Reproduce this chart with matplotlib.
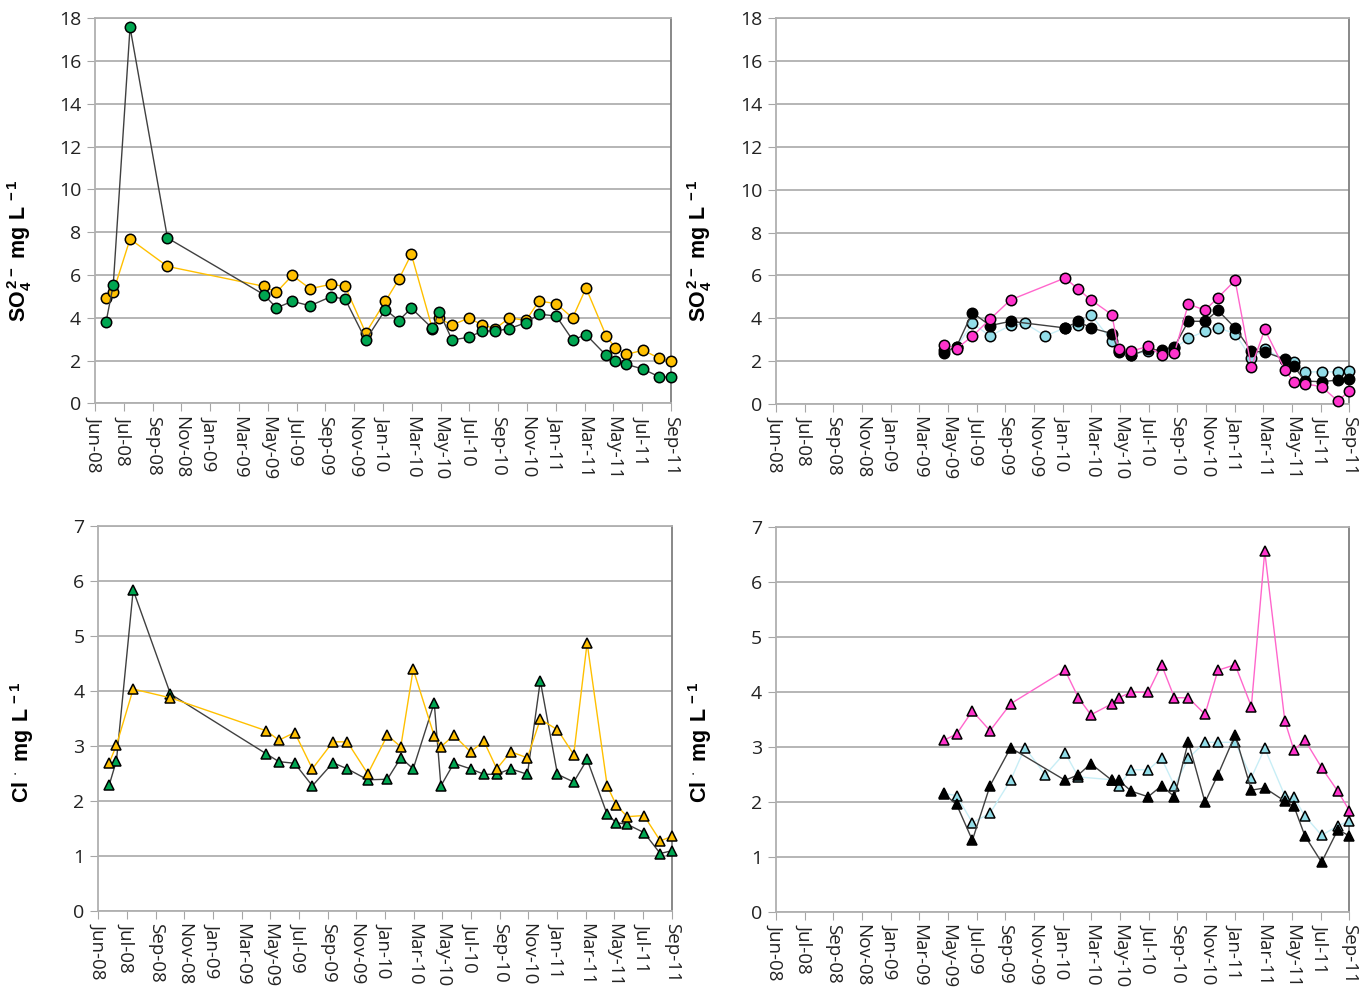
#!/usr/bin/env python3
"""
Sulphate and chloride time series, four panels (Jun-08 .. Sep-11).
"""
import numpy as np
import matplotlib
matplotlib.use("Agg")
import matplotlib.pyplot as plt
import matplotlib.dates as mdates

plt.rcParams.update({
    "font.family": ["Open Sans", "DejaVu Sans"],
    "mathtext.fontset": "custom",
    "mathtext.rm": "Liberation Sans",
    "mathtext.bf": "Liberation Sans:bold",
})

# ---------------------------------------------------------------------------
# Data (sampling dates shared by all panels, NaN = no sample)
# ---------------------------------------------------------------------------
DATES = [
    "2008-06-24", "2008-07-09", "2008-08-13", "2008-10-30",
    "2009-05-19", "2009-06-14", "2009-07-17", "2009-08-23",
    "2009-10-05", "2009-11-04", "2009-12-17", "2010-01-27",
    "2010-02-24", "2010-03-22", "2010-05-05", "2010-05-19",
    "2010-06-15", "2010-07-20", "2010-08-17", "2010-09-13",
    "2010-10-12", "2010-11-16", "2010-12-13", "2011-01-18",
    "2011-02-21", "2011-03-21", "2011-05-02", "2011-05-21",
    "2011-06-13", "2011-07-18", "2011-08-21", "2011-09-14",
]
nan = np.nan

# top left: SO4
so4_yellow = [4.91, 5.20, 7.68, 6.40, 5.47, 5.19, 5.98, 5.36, 5.56, 5.47, 3.29, 4.77,
              5.80, 6.97, 3.47, 3.97, 3.66, 3.99, 3.66, 3.49, 3.99, 3.88, 4.78, 4.66,
              3.99, 5.39, 3.15, 2.59, 2.29, 2.48, 2.10, 1.96]
so4_green = [3.80, 5.53, 17.58, 7.73, 5.08, 4.46, 4.77, 4.56, 4.98, 4.88, 2.96, 4.38,
             3.87, 4.45, 3.50, 4.28, 2.96, 3.09, 3.38, 3.38, 3.49, 3.77, 4.17, 4.08,
             2.96, 3.21, 2.24, 1.99, 1.82, 1.60, 1.23, 1.23]

# top right: SO4
so4_blue = [nan, nan, nan, nan, 2.50, 2.65, 3.76, 3.18, 3.67, 3.76, 3.18, 3.55,
            3.67, 4.17, 2.94, 2.45, 2.30, 2.47, 2.45, 2.60, 3.06, 3.40, 3.55, 3.29,
            2.13, 2.56, 2.05, 1.97, 1.50, 1.50, 1.50, 1.55]
so4_black = [nan, nan, nan, nan, 2.40, 2.68, 4.27, 3.66, 3.86, nan, nan, 3.55,
             3.86, 3.55, 3.29, 2.48, 2.28, 2.55, 2.51, 2.68, 3.86, 3.86, 4.37, 3.55,
             2.46, 2.43, 2.09, 1.77, 1.07, 1.04, 1.12, 1.15]
so4_pink = [nan, nan, nan, nan, 2.75, 2.59, 3.16, 3.96, 4.86, nan, nan, 5.88,
            5.35, 4.86, 4.17, 2.55, 2.47, 2.69, 2.27, 2.38, 4.66, 4.38, 4.96, 5.77,
            1.72, 3.48, 1.61, 1.03, 0.94, 0.81, 0.14, 0.61]

# bottom left: Cl
cl_yellow = [2.69, 3.01, 4.03, 3.87, 3.27, 3.10, 3.24, 2.58, 3.07, 3.07, 2.49, 3.19,
             2.98, 4.39, 3.18, 2.98, 3.19, 2.89, 3.08, 2.58, 2.89, 2.78, 3.48, 3.29,
             2.84, 4.87, 2.27, 1.92, 1.71, 1.73, 1.27, 1.35]
cl_green = [2.29, 2.73, 5.83, 3.94, 2.85, 2.71, 2.68, 2.27, 2.69, 2.58, 2.38, 2.39,
            2.78, 2.58, 3.78, 2.27, 2.68, 2.58, 2.48, 2.48, 2.58, 2.48, 4.18, 2.48,
            2.34, 2.75, 1.75, 1.60, 1.57, 1.42, 1.04, 1.09]

# bottom right: Cl
cl_blue = [nan, nan, nan, nan, 2.15, 2.11, 1.62, 1.79, 2.39, 2.98, 2.49, 2.89,
           2.45, nan, 2.40, 2.29, 2.58, 2.58, 2.79, 2.29, 2.79, 3.08, 3.08, 3.08,
           2.44, 2.97, 2.11, 2.08, 1.74, 1.39, 1.56, 1.65]
cl_black = [nan, nan, nan, nan, 2.14, 1.95, 1.30, 2.29, 2.98, nan, nan, 2.39,
            2.49, 2.69, 2.39, 2.39, 2.19, 2.09, 2.29, 2.09, 3.09, 1.99, 2.49, 3.21,
            2.21, 2.25, 2.01, 1.92, 1.38, 0.90, 1.49, 1.38]
cl_pink = [nan, nan, nan, nan, 3.12, 3.23, 3.65, 3.29, 3.78, nan, nan, 4.39,
           3.89, 3.58, 3.78, 3.89, 3.99, 3.99, 4.49, 3.89, 3.89, 3.59, 4.39, 4.49,
           3.73, 6.55, 3.47, 2.94, 3.12, 2.62, 2.19, 1.84]

SO4_LABEL = r"$\mathbf{SO_4^{\,2-}\;mg\ L^{\,-1}}$"
CL_LABEL = r"$\mathbf{Cl^{\,\cdot}\ mg\ L^{\,-1}}$"

# ---------------------------------------------------------------------------
# Style
# ---------------------------------------------------------------------------
YELLOW = dict(mfc="#FFC000", line="#FFC000")
GREEN = dict(mfc="#00A651", line="#404040")
BLUE = dict(mfc="#92DDE8", line="#C8EEF6")
BLACK = dict(mfc="#000000", line="#404040")
PINK = dict(mfc="#FF33CC", line="#FF66CC")

START = np.datetime64("2008-06-01")
TICKS = [START + np.timedelta64(60 * k, "D") for k in range(21)]
DATES_NP = np.array(DATES, dtype="datetime64[D]")


def series(ax, values, style, marker, ms):
    v = np.array(values, dtype=float)
    m = ~np.isnan(v)
    ax.plot(DATES_NP[m], v[m], color=style["line"], lw=1.0, zorder=3,
            marker=marker, ms=ms, mfc=style["mfc"], mec="black", mew=1.1,
            clip_on=False)


def frame(ax, ymax):
    ax.set_xlim(TICKS[0], TICKS[-1])
    ax.set_ylim(0, ymax)
    ax.set_yticks(np.arange(0, ymax + 1, 2 if ymax > 10 else 1))
    ax.set_xticks(TICKS)
    ax.xaxis.set_major_formatter(mdates.DateFormatter("%b-%y"))
    ax.tick_params(axis="x", labelrotation=270, labelsize=13.5, length=6,
                   color="#a6a6a6", pad=3, labelcolor="#222222")
    ax.tick_params(axis="y", labelsize=14, length=6, color="#a6a6a6",
                   pad=4, labelcolor="#222222")
    ax.grid(axis="y", color="#b0b0b0", lw=1.3)
    ax.set_axisbelow(True)
    for s in ("left", "bottom", "top"):
        ax.spines[s].set_color("#b0b0b0")
        ax.spines[s].set_linewidth(1.3)
    ax.spines["right"].set_color("#7f7f7f")
    ax.spines["right"].set_linewidth(1.3)


W, H = 1368, 990


def add_axes(fig, left, right, top, bottom):
    return fig.add_axes([left / W, 1 - bottom / H, (right - left) / W, (bottom - top) / H])


fig = plt.figure(figsize=(W / 100, H / 100), dpi=100)

ax_tl = add_axes(fig, 95, 671, 18.3, 403.3)
ax_tr = add_axes(fig, 776, 1349.3, 18.3, 404)
ax_bl = add_axes(fig, 98.3, 671.7, 525.7, 910.7)
ax_br = add_axes(fig, 776, 1349.3, 526.7, 911.7)

frame(ax_tl, 18)
series(ax_tl, so4_yellow, YELLOW, "o", 7.5)
series(ax_tl, so4_green, GREEN, "o", 7.5)

frame(ax_tr, 18)
series(ax_tr, so4_blue, BLUE, "o", 7.5)
series(ax_tr, so4_black, BLACK, "o", 7.5)
series(ax_tr, so4_pink, PINK, "o", 7.5)

frame(ax_bl, 7)
series(ax_bl, cl_green, GREEN, "^", 7.5)
series(ax_bl, cl_yellow, YELLOW, "^", 7.5)

frame(ax_br, 7)
series(ax_br, cl_blue, BLUE, "^", 7.5)
series(ax_br, cl_black, BLACK, "^", 7.5)
series(ax_br, cl_pink, PINK, "^", 7.5)

for x, y, txt in [(20, 251, SO4_LABEL), (700, 251, SO4_LABEL),
                  (22, 742, CL_LABEL), (700, 742, CL_LABEL)]:
    fig.text(x / W, 1 - y / H, txt, rotation=90, ha="center", va="center",
             fontsize=15.5)

fig.savefig("out.png", dpi=100)
